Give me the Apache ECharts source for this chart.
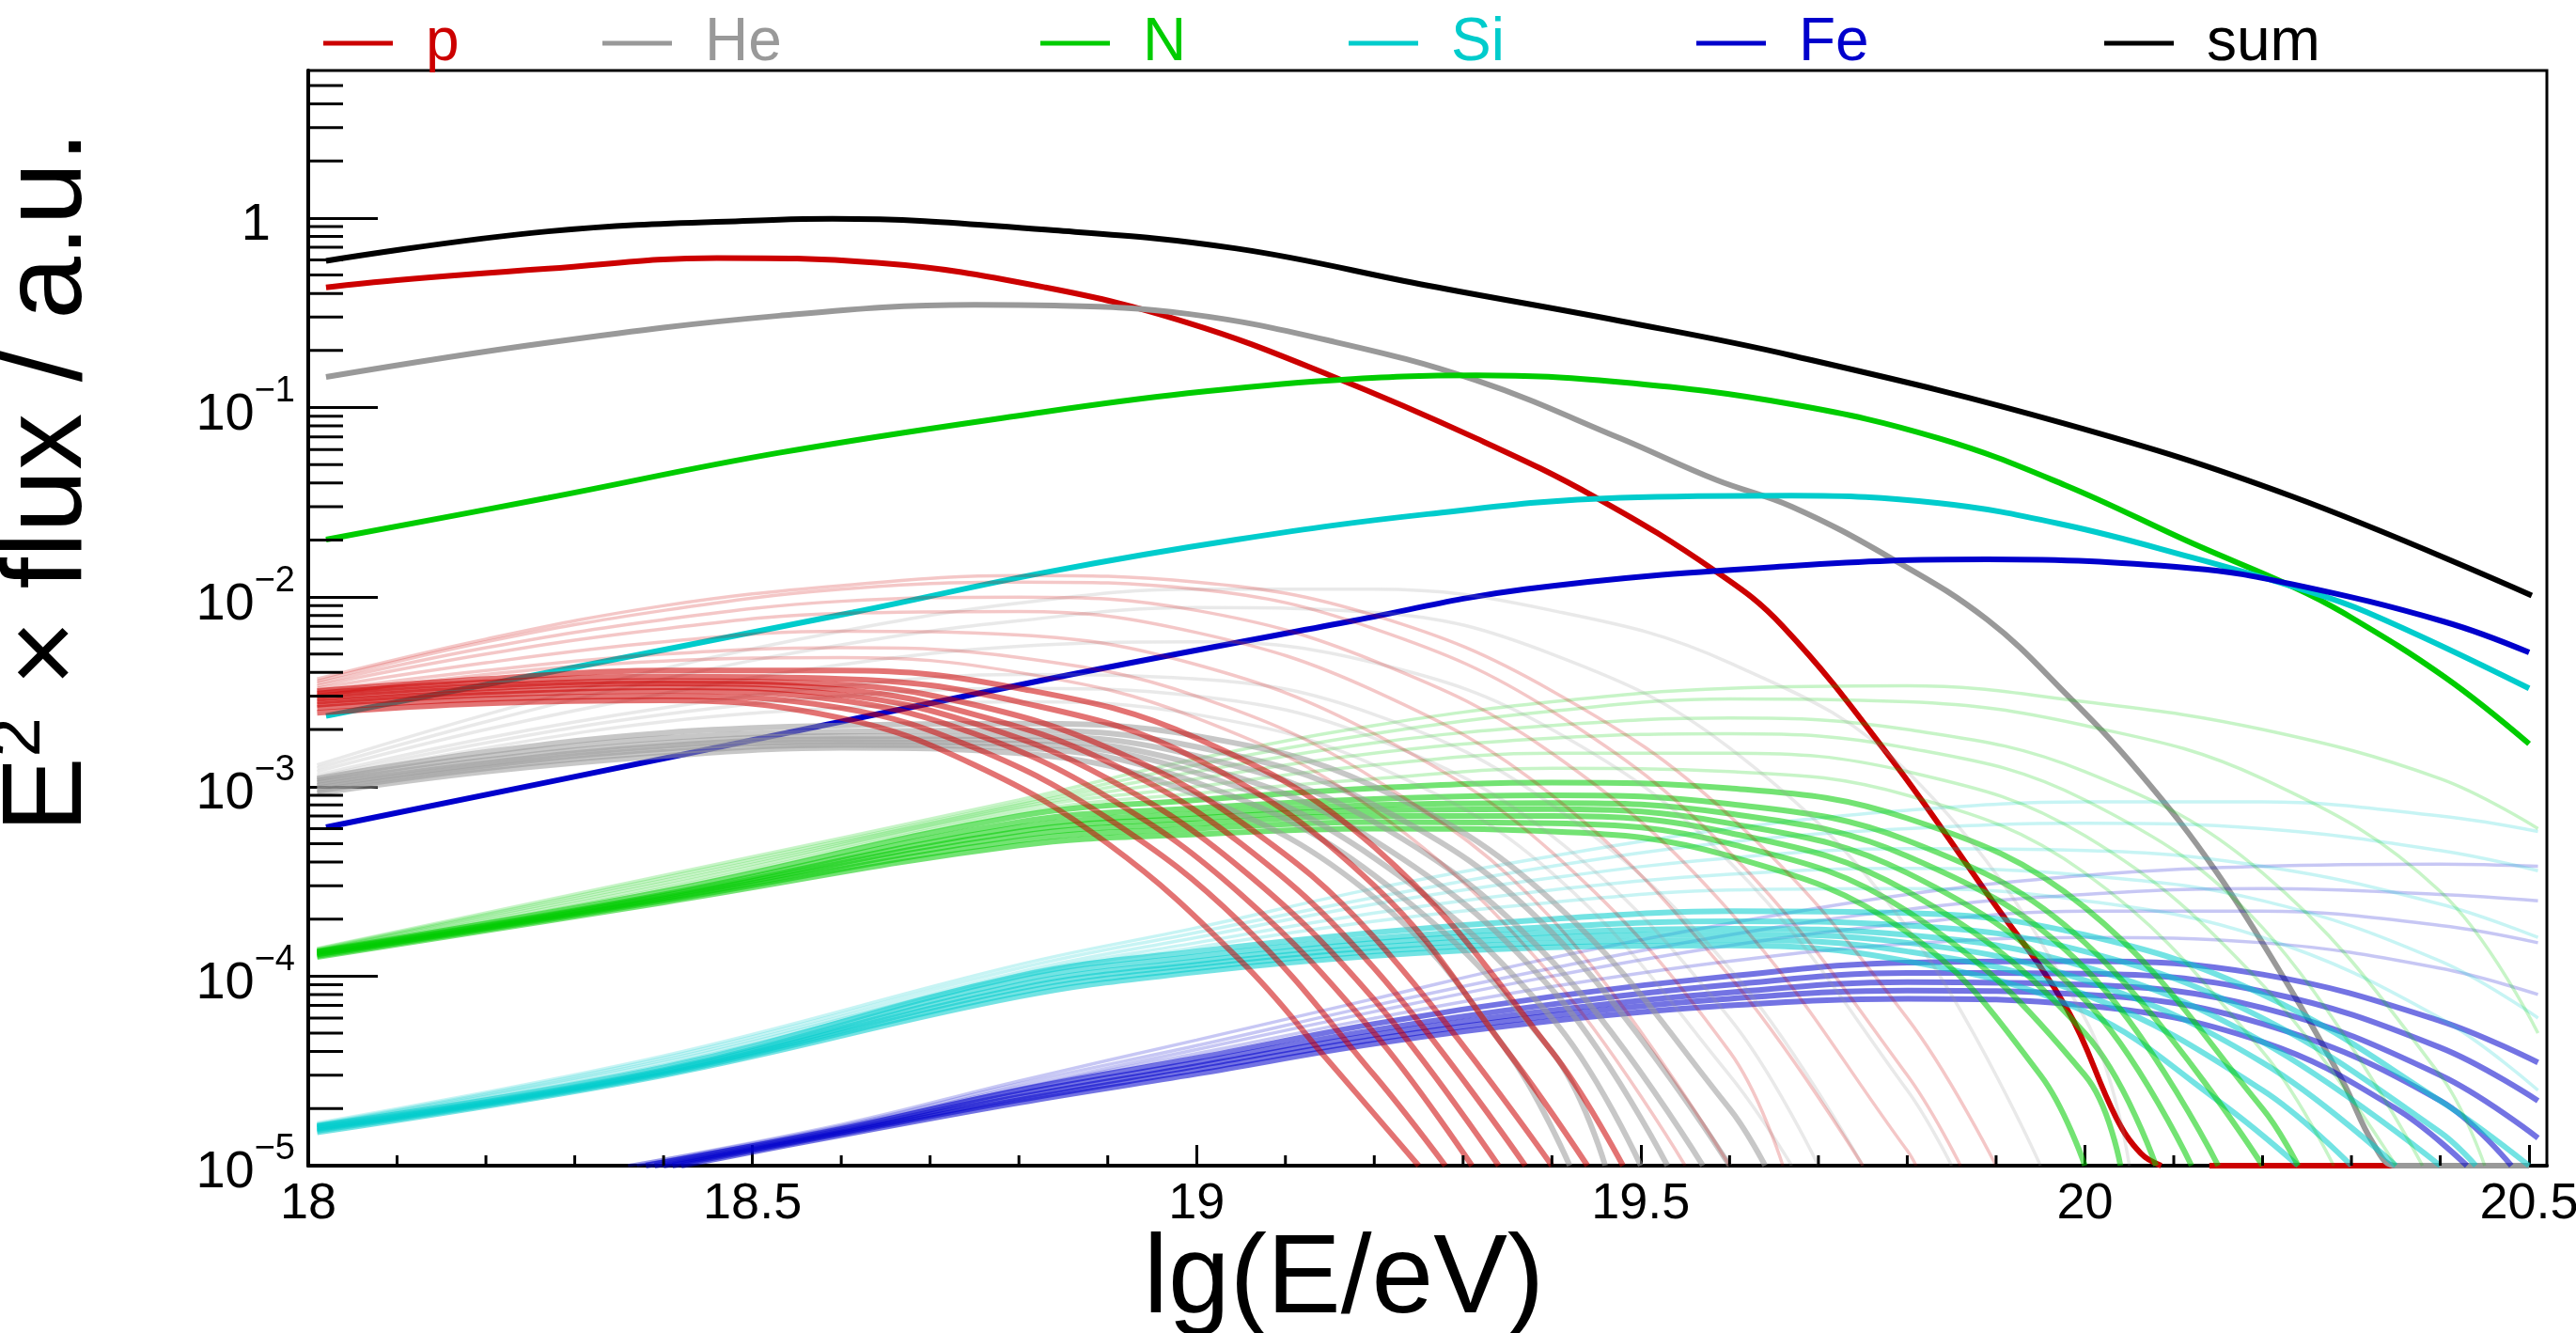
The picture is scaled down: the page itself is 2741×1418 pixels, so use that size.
<!DOCTYPE html>
<html><head><meta charset="utf-8">
<script src="https://cdn.jsdelivr.net/npm/echarts@6/dist/echarts.min.js"></script>
<style>html,body{margin:0;padding:0;background:#fff}#c{width:2741px;height:1418px}</style>
</head><body><div id="c"></div>
<script>
const FONT = '"Liberation Sans", Arial, Helvetica, sans-serif';
const RED = '#cc0000', GRAY = '#999999', GREEN = '#00cc00', CYAN = '#00cccc', BLUE = '#0000cc', BLACK = '#000000';

// ---- axis ticks ----
const xTickLabels = [18, 18.5, 19, 19.5, 20, 20.5];
const xMinorTicks = [18.1,18.2,18.3,18.4,18.6,18.7,18.8,18.9,19.1,19.2,19.3,19.4,19.6,19.7,19.8,19.9,20.1,20.2,20.3,20.4];
const yMinorTicks = [2e-5,3e-5,4e-5,5e-5,6e-5,7e-5,8e-5,9e-5,
  2e-4,3e-4,4e-4,5e-4,6e-4,7e-4,8e-4,9e-4,
  2e-3,3e-3,4e-3,5e-3,6e-3,7e-3,8e-3,9e-3,
  2e-2,3e-2,4e-2,5e-2,6e-2,7e-2,8e-2,9e-2,
  0.2,0.3,0.4,0.5,0.6,0.7,0.8,0.9, 2,3,4,5];

// ---- main curves [lg(E/eV), E^2 x flux] ----
const pMain = [[18.02,0.43],[18.1,0.47],[18.27,0.54],[18.46,0.615],[18.64,0.58],[18.83,0.43],[18.99,0.28],[19.15,0.148],[19.315,0.0687],[19.45,0.0334],[19.585,0.0136],[19.66,0.0070],[19.78,1.44e-3],[19.89,2.72e-4],[19.98,6.7e-5],[20.035,1.8e-5],[20.063,1.16e-5],[20.086,1.0e-5],[20.11,null],[20.14,1e-5],[20.42,1e-5]];
const heMain = [[18.02,0.145],[18.27,0.22],[18.53,0.305],[18.75,0.348],[18.84,0.345],[18.99,0.312],[19.15,0.225],[19.315,0.139],[19.477,0.0688],[19.585,0.0415],[19.67,0.03],[19.78,0.0162],[19.89,7.6e-3],[19.98,3.04e-3],[20.063,1.16e-3],[20.148,3.55e-4],[20.233,8.3e-5],[20.29,2.8e-5],[20.325,1.3e-5],[20.35,1e-5],[20.5,1e-5]];
const nMain = [[18.02,0.0201],[18.27,0.0334],[18.53,0.0577],[18.83,0.095],[18.99,0.119],[19.15,0.139],[19.315,0.148],[19.477,0.136],[19.67,0.104],[19.836,0.0687],[19.978,0.0389],[20.12,0.0193],[20.233,0.0114],[20.29,8.3e-3],[20.405,3.78e-3],[20.5,1.68e-3]];
const siMain = [[18.02,2.36e-3],[18.613,8.3e-3],[18.83,0.0135],[19.045,0.0201],[19.26,0.0274],[19.477,0.0334],[19.67,0.0343],[19.836,0.0313],[19.978,0.024],[20.12,0.0162],[20.233,0.0114],[20.318,8.3e-3],[20.5,3.3e-3]];
const feMain = [[18.02,6.1e-4],[18.42,1.47e-3],[18.84,3.75e-3],[19.17,7.4e-3],[19.37,0.011],[19.67,0.0146],[19.89,0.0158],[20.12,0.0142],[20.233,0.0117],[20.405,7.4e-3],[20.5,5.1e-3]];
const sumMain = [[18.02,0.594],[18.27,0.85],[18.53,0.98],[18.59,0.99],[18.84,0.86],[19.045,0.69],[19.26,0.44],[19.477,0.286],[19.67,0.188],[19.978,0.082],[20.233,0.034],[20.503,0.0102]];

// ---- bundles of individual curves: dense cores and sparse outer curves ----
const pCore = [
 [[18.01,2.45e-3],[18.2,2.75e-3],[18.4,2.85e-3],[18.6,2.3e-3],[18.75,1.3e-3],[18.9,5e-4],[19.05,1.2e-4],[19.15,3.5e-5],[19.25,1e-5]],
 [[18.01,2.6e-3],[18.2,2.9e-3],[18.4,3.0e-3],[18.6,2.6e-3],[18.75,1.6e-3],[18.9,6.8e-4],[19.05,1.9e-4],[19.2,3e-5],[19.28,1e-5]],
 [[18.01,2.7e-3],[18.2,3.05e-3],[18.4,3.2e-3],[18.6,2.85e-3],[18.75,1.9e-3],[18.9,8.8e-4],[19.05,2.7e-4],[19.2,5e-5],[19.31,1e-5]],
 [[18.01,2.8e-3],[18.2,3.15e-3],[18.4,3.35e-3],[18.6,3.05e-3],[18.75,2.15e-3],[18.9,1.1e-3],[19.05,3.7e-4],[19.2,7.5e-5],[19.34,1e-5]],
 [[18.01,2.9e-3],[18.2,3.3e-3],[18.4,3.5e-3],[18.6,3.25e-3],[18.75,2.4e-3],[18.9,1.35e-3],[19.05,5e-4],[19.2,1.1e-4],[19.37,1e-5]],
 [[18.01,3.0e-3],[18.2,3.4e-3],[18.4,3.6e-3],[18.6,3.45e-3],[18.75,2.7e-3],[18.9,1.6e-3],[19.05,6.5e-4],[19.2,1.6e-4],[19.4,1e-5]],
 [[18.01,3.1e-3],[18.2,3.55e-3],[18.4,3.8e-3],[18.6,3.7e-3],[18.8,2.8e-3],[19.0,1.4e-3],[19.2,3e-4],[19.35,4e-5],[19.44,1e-5]],
 [[18.01,3.2e-3],[18.2,3.7e-3],[18.4,4.1e-3],[18.6,4.1e-3],[18.8,3.3e-3],[19.0,1.8e-3],[19.2,4.8e-4],[19.4,4e-5],[19.48,1e-5]]
];
const pOuter = [
 [[18.01,3.0e-3],[18.2,3.9e-3],[18.4,4.6e-3],[18.6,4.8e-3],[18.8,4.0e-3],[19.0,2.3e-3],[19.2,7.5e-4],[19.4,1e-4],[19.55,1e-5]],
 [[18.01,3.2e-3],[18.2,4.1e-3],[18.4,5.0e-3],[18.6,5.4e-3],[18.8,4.8e-3],[19.0,3.0e-3],[19.2,1.1e-3],[19.4,2e-4],[19.6,1e-5]],
 [[18.01,3.3e-3],[18.2,4.5e-3],[18.4,5.8e-3],[18.6,6.6e-3],[18.8,6.3e-3],[19.0,4.4e-3],[19.2,1.9e-3],[19.4,4.5e-4],[19.6,4e-5],[19.66,1e-5]],
 [[18.01,3.4e-3],[18.2,5.0e-3],[18.4,6.8e-3],[18.6,8.2e-3],[18.8,8.4e-3],[19.0,6.5e-3],[19.2,3.2e-3],[19.4,9e-4],[19.6,1e-4],[19.75,1e-5]],
 [[18.01,3.5e-3],[18.2,5.4e-3],[18.4,7.6e-3],[18.6,9.5e-3],[18.8,1.0e-2],[19.0,8.5e-3],[19.2,4.6e-3],[19.4,1.5e-3],[19.6,2.2e-4],[19.8,1.2e-5],[19.81,1e-5]],
 [[18.01,3.6e-3],[18.2,5.8e-3],[18.4,8.5e-3],[18.6,1.1e-2],[18.8,1.2e-2],[19.0,1.1e-2],[19.2,6.8e-3],[19.4,2.5e-3],[19.6,4.5e-4],[19.8,3e-5],[19.86,1e-5]],
 [[18.01,3.7e-3],[18.2,6.0e-3],[18.4,9e-3],[18.6,1.15e-2],[18.8,1.3e-2],[19.0,1.2e-2],[19.2,8e-3],[19.4,3.2e-3],[19.6,7e-4],[19.8,6e-5],[19.9,1e-5]]
];
const heCore = [
 [[18.01,9.2e-4],[18.2,1.2e-3],[18.4,1.45e-3],[18.6,1.6e-3],[18.8,1.5e-3],[19.0,9e-4],[19.2,2.6e-4],[19.35,4e-5],[19.42,1e-5]],
 [[18.01,9.5e-4],[18.2,1.25e-3],[18.4,1.52e-3],[18.6,1.66e-3],[18.8,1.6e-3],[19.0,1.05e-3],[19.2,3.4e-4],[19.4,4e-5],[19.46,1e-5]],
 [[18.01,9.8e-4],[18.2,1.29e-3],[18.4,1.58e-3],[18.6,1.72e-3],[18.8,1.68e-3],[19.0,1.18e-3],[19.2,4.2e-4],[19.4,6e-5],[19.5,1e-5]],
 [[18.01,1.01e-3],[18.2,1.33e-3],[18.4,1.64e-3],[18.6,1.78e-3],[18.8,1.76e-3],[19.0,1.3e-3],[19.2,5.2e-4],[19.4,8.5e-5],[19.53,1e-5]],
 [[18.01,1.04e-3],[18.2,1.38e-3],[18.4,1.7e-3],[18.6,1.85e-3],[18.8,1.85e-3],[19.0,1.45e-3],[19.2,6.5e-4],[19.4,1.2e-4],[19.57,1e-5]],
 [[18.01,1.07e-3],[18.2,1.45e-3],[18.4,1.8e-3],[18.6,1.95e-3],[18.8,1.98e-3],[19.0,1.62e-3],[19.2,8e-4],[19.4,1.7e-4],[19.6,1e-5]],
 [[18.01,1.1e-3],[18.2,1.52e-3],[18.4,1.92e-3],[18.6,2.1e-3],[18.8,2.15e-3],[19.0,1.85e-3],[19.2,1.0e-3],[19.4,2.5e-4],[19.6,2e-5],[19.64,1e-5]]
];
const heOuter = [
 [[18.01,1.1e-3],[18.2,1.6e-3],[18.4,2.2e-3],[18.6,2.6e-3],[18.8,2.8e-3],[19.0,2.4e-3],[19.2,1.3e-3],[19.4,3.5e-4],[19.6,3e-5],[19.67,1e-5]],
 [[18.01,1.12e-3],[18.2,1.7e-3],[18.4,2.4e-3],[18.6,3.0e-3],[18.8,3.3e-3],[19.0,3.0e-3],[19.2,1.8e-3],[19.4,5.5e-4],[19.6,6e-5],[19.7,1e-5]],
 [[18.01,1.15e-3],[18.2,1.8e-3],[18.4,2.6e-3],[18.6,3.4e-3],[18.8,3.9e-3],[19.0,3.7e-3],[19.2,2.4e-3],[19.4,8e-4],[19.6,1.1e-4],[19.75,1e-5]],
 [[18.01,1.2e-3],[18.2,2.0e-3],[18.4,3.1e-3],[18.6,4.4e-3],[18.8,5.5e-3],[19.0,5.8e-3],[19.2,4.5e-3],[19.4,2.0e-3],[19.6,4e-4],[19.8,2.5e-5],[19.85,1e-5]],
 [[18.01,1.25e-3],[18.2,2.2e-3],[18.4,3.7e-3],[18.6,5.6e-3],[18.8,7.5e-3],[19.0,8.8e-3],[19.2,8.3e-3],[19.4,5e-3],[19.6,1.6e-3],[19.8,1.8e-4],[19.95,1e-5]],
 [[18.01,1.3e-3],[18.2,2.4e-3],[18.4,4.2e-3],[18.6,6.6e-3],[18.8,9.3e-3],[19.0,1.1e-2],[19.2,1.1e-2],[19.4,8.5e-3],[19.6,4.5e-3],[19.8,1.2e-3],[20.0,6e-5],[20.05,1e-5]]
];
const nCore = [
 [[18.01,1.26e-4],[18.4,2.45e-4],[18.8,4.9e-4],[19.0,5.6e-4],[19.2,6.0e-4],[19.4,5.8e-4],[19.6,4.3e-4],[19.8,1.7e-4],[19.95,3e-5],[20.0,1e-5]],
 [[18.01,1.28e-4],[18.4,2.5e-4],[18.8,5.2e-4],[19.0,6.0e-4],[19.2,6.5e-4],[19.4,6.4e-4],[19.6,5.0e-4],[19.8,2.2e-4],[20.0,3e-5],[20.04,1e-5]],
 [[18.01,1.3e-4],[18.4,2.55e-4],[18.8,5.5e-4],[19.0,6.4e-4],[19.2,7.0e-4],[19.4,7.0e-4],[19.6,5.7e-4],[19.8,2.8e-4],[20.0,5e-5],[20.08,1e-5]],
 [[18.01,1.31e-4],[18.4,2.6e-4],[18.8,5.8e-4],[19.0,6.8e-4],[19.2,7.5e-4],[19.4,7.6e-4],[19.6,6.4e-4],[19.8,3.5e-4],[20.0,7.5e-5],[20.12,1e-5]],
 [[18.01,1.33e-4],[18.4,2.65e-4],[18.8,6.1e-4],[19.0,7.2e-4],[19.2,8.0e-4],[19.4,8.2e-4],[19.6,7.2e-4],[19.8,4.3e-4],[20.0,1.1e-4],[20.15,1e-5]],
 [[18.01,1.34e-4],[18.4,2.7e-4],[18.8,6.5e-4],[19.0,7.7e-4],[19.2,8.6e-4],[19.4,9.0e-4],[19.6,8.1e-4],[19.8,5.2e-4],[20.0,1.5e-4],[20.2,1e-5]],
 [[18.01,1.35e-4],[18.4,2.8e-4],[18.8,7.0e-4],[19.0,8.5e-4],[19.2,9.8e-4],[19.4,1.05e-3],[19.6,9.8e-4],[19.8,6.8e-4],[20.0,2.3e-4],[20.2,2e-5],[20.24,1e-5]]
];
const nOuter = [
 [[18.01,1.35e-4],[18.4,2.9e-4],[18.8,7.3e-4],[19.0,9.2e-4],[19.2,1.1e-3],[19.4,1.25e-3],[19.6,1.2e-3],[19.8,9e-4],[20.0,3.5e-4],[20.2,4e-5],[20.28,1e-5]],
 [[18.01,1.36e-4],[18.4,3.0e-4],[18.8,7.6e-4],[19.0,1.0e-3],[19.2,1.3e-3],[19.4,1.5e-3],[19.6,1.5e-3],[19.8,1.2e-3],[20.0,5.5e-4],[20.2,9e-5],[20.35,1e-5]],
 [[18.01,1.37e-4],[18.4,3.1e-4],[18.8,7.8e-4],[19.0,1.1e-3],[19.2,1.5e-3],[19.4,1.8e-3],[19.6,1.9e-3],[19.8,1.6e-3],[20.0,8.5e-4],[20.2,1.8e-4],[20.38,1e-5]],
 [[18.01,1.38e-4],[18.4,3.2e-4],[18.8,8.0e-4],[19.0,1.2e-3],[19.2,1.7e-3],[19.4,2.1e-3],[19.6,2.3e-3],[19.8,2.0e-3],[20.0,1.2e-3],[20.2,3.5e-4],[20.4,3e-5],[20.45,1e-5]],
 [[18.01,1.39e-4],[18.4,3.3e-4],[18.8,8.2e-4],[19.0,1.3e-3],[19.2,1.9e-3],[19.4,2.5e-3],[19.6,2.9e-3],[19.8,2.8e-3],[20.0,2.1e-3],[20.2,1.1e-3],[20.4,2.8e-4],[20.51,5e-5]],
 [[18.01,1.4e-4],[18.4,3.4e-4],[18.8,8.5e-4],[19.0,1.4e-3],[19.2,2.1e-3],[19.4,2.8e-3],[19.6,3.3e-3],[19.8,3.4e-3],[20.0,2.8e-3],[20.2,2.0e-3],[20.4,1.1e-3],[20.51,6e-4]]
];
const siCore = [
 [[18.01,1.5e-5],[18.4,3.0e-5],[18.8,7.8e-5],[19.0,1.05e-4],[19.2,1.28e-4],[19.4,1.42e-4],[19.6,1.45e-4],[19.8,1.2e-4],[20.0,6.5e-5],[20.15,2.2e-5],[20.24,1e-5]],
 [[18.01,1.53e-5],[18.4,3.05e-5],[18.8,8.2e-5],[19.0,1.1e-4],[19.2,1.35e-4],[19.4,1.5e-4],[19.6,1.55e-4],[19.8,1.35e-4],[20.0,8e-5],[20.2,2.5e-5],[20.3,1e-5]],
 [[18.01,1.56e-5],[18.4,3.1e-5],[18.8,8.6e-5],[19.0,1.15e-4],[19.2,1.42e-4],[19.4,1.6e-4],[19.6,1.66e-4],[19.8,1.5e-4],[20.0,9.5e-5],[20.2,3.5e-5],[20.35,1e-5]],
 [[18.01,1.58e-5],[18.4,3.15e-5],[18.8,9.0e-5],[19.0,1.2e-4],[19.2,1.5e-4],[19.4,1.7e-4],[19.6,1.78e-4],[19.8,1.65e-4],[20.0,1.12e-4],[20.2,4.5e-5],[20.4,1e-5]],
 [[18.01,1.6e-5],[18.4,3.2e-5],[18.8,9.5e-5],[19.0,1.27e-4],[19.2,1.58e-4],[19.4,1.82e-4],[19.6,1.95e-4],[19.8,1.85e-4],[20.0,1.35e-4],[20.2,6e-5],[20.4,1.5e-5],[20.44,1e-5]],
 [[18.01,1.62e-5],[18.4,3.3e-5],[18.8,1.0e-4],[19.0,1.35e-4],[19.2,1.7e-4],[19.4,2.0e-4],[19.6,2.2e-4],[19.8,2.15e-4],[20.0,1.65e-4],[20.2,8e-5],[20.4,2.2e-5],[20.5,1e-5]]
];
const siOuter = [
 [[18.01,1.63e-5],[18.4,3.4e-5],[18.8,1.0e-4],[19.0,1.42e-4],[19.2,1.95e-4],[19.4,2.45e-4],[19.6,2.85e-4],[19.8,2.9e-4],[20.0,2.5e-4],[20.2,1.6e-4],[20.4,6e-5],[20.51,2.5e-5]],
 [[18.01,1.64e-5],[18.4,3.5e-5],[18.8,1.02e-4],[19.0,1.5e-4],[19.2,2.15e-4],[19.4,2.85e-4],[19.6,3.45e-4],[19.8,3.7e-4],[20.0,3.4e-4],[20.2,2.5e-4],[20.4,1.2e-4],[20.51,6e-5]],
 [[18.01,1.65e-5],[18.4,3.6e-5],[18.8,1.05e-4],[19.0,1.6e-4],[19.2,2.4e-4],[19.4,3.3e-4],[19.6,4.2e-4],[19.8,4.7e-4],[20.0,4.6e-4],[20.2,3.8e-4],[20.4,2.4e-4],[20.51,1.6e-4]],
 [[18.01,1.66e-5],[18.4,3.7e-5],[18.8,1.1e-4],[19.0,1.7e-4],[19.2,2.6e-4],[19.4,3.8e-4],[19.6,5.1e-4],[19.8,6e-4],[20.0,6.4e-4],[20.2,6e-4],[20.4,4.6e-4],[20.51,3.6e-4]],
 [[18.01,1.68e-5],[18.4,3.8e-5],[18.8,1.15e-4],[19.0,1.8e-4],[19.2,2.9e-4],[19.4,4.3e-4],[19.6,6e-4],[19.8,7.5e-4],[20.0,8.3e-4],[20.2,8.3e-4],[20.4,7e-4],[20.51,5.8e-4]]
];
const feCore = [
 [[18.42,1e-5],[18.6,1.45e-5],[18.8,2.15e-5],[19.0,3.05e-5],[19.2,4.4e-5],[19.4,5.8e-5],[19.6,7.0e-5],[19.8,7.6e-5],[20.0,7.0e-5],[20.2,4.5e-5],[20.35,2e-5],[20.43,1e-5]],
 [[18.41,1e-5],[18.6,1.48e-5],[18.8,2.22e-5],[19.0,3.2e-5],[19.2,4.65e-5],[19.4,6.2e-5],[19.6,7.6e-5],[19.8,8.4e-5],[20.0,8.0e-5],[20.2,5.6e-5],[20.4,2.2e-5],[20.48,1e-5]],
 [[18.40,1e-5],[18.6,1.5e-5],[18.8,2.3e-5],[19.0,3.35e-5],[19.2,4.9e-5],[19.4,6.6e-5],[19.6,8.2e-5],[19.8,9.3e-5],[20.0,9.0e-5],[20.2,6.8e-5],[20.4,3e-5],[20.51,1.4e-5]],
 [[18.39,1e-5],[18.6,1.53e-5],[18.8,2.4e-5],[19.0,3.5e-5],[19.2,5.2e-5],[19.4,7.1e-5],[19.6,9e-5],[19.8,1.04e-4],[20.0,1.03e-4],[20.2,8.3e-5],[20.4,4.2e-5],[20.51,2.2e-5]],
 [[18.38,1e-5],[18.6,1.56e-5],[18.8,2.5e-5],[19.0,3.7e-5],[19.2,5.6e-5],[19.4,7.8e-5],[19.6,1.0e-4],[19.8,1.18e-4],[20.0,1.2e-4],[20.2,1.02e-4],[20.4,5.8e-5],[20.51,3.5e-5]]
];
const feOuter = [
 [[18.37,1e-5],[18.6,1.58e-5],[18.8,2.55e-5],[19.0,3.9e-5],[19.2,6.0e-5],[19.4,8.8e-5],[19.6,1.2e-4],[19.8,1.48e-4],[20.0,1.6e-4],[20.2,1.5e-4],[20.4,1.1e-4],[20.51,8e-5]],
 [[18.37,1e-5],[18.6,1.6e-5],[18.8,2.6e-5],[19.0,4.1e-5],[19.2,6.5e-5],[19.4,1.0e-4],[19.6,1.45e-4],[19.8,1.9e-4],[20.0,2.2e-4],[20.2,2.2e-4],[20.4,1.85e-4],[20.51,1.5e-4]],
 [[18.36,1e-5],[18.6,1.62e-5],[18.8,2.7e-5],[19.0,4.3e-5],[19.2,7.0e-5],[19.4,1.1e-4],[19.6,1.65e-4],[19.8,2.25e-4],[20.0,2.7e-4],[20.2,2.9e-4],[20.4,2.7e-4],[20.51,2.5e-4]],
 [[18.36,1e-5],[18.6,1.65e-5],[18.8,2.8e-5],[19.0,4.6e-5],[19.2,7.6e-5],[19.4,1.25e-4],[19.6,1.9e-4],[19.8,2.7e-4],[20.0,3.4e-4],[20.2,3.8e-4],[20.4,3.9e-4],[20.51,3.8e-4]]
];

const mains = [
  {name:'p', data:pMain, color:RED},
  {name:'He', data:heMain, color:GRAY},
  {name:'N', data:nMain, color:GREEN},
  {name:'Si', data:siMain, color:CYAN},
  {name:'Fe', data:feMain, color:BLUE},
  {name:'sum', data:sumMain, color:BLACK}
];
const bundles = [
  {core:feCore, outer:feOuter, color:BLUE},
  {core:siCore, outer:siOuter, color:CYAN},
  {core:nCore, outer:nOuter, color:GREEN},
  {core:heCore, outer:heOuter, color:GRAY},
  {core:pCore, outer:pOuter, color:RED}
];
const legendLeft = [344, 641, 1107, 1435, 1805, 2239];

const series = [];
mains.forEach(m => series.push({
  name:m.name, type:'line', data:m.data, showSymbol:false, smooth:0.4,
  connectNulls:false, lineStyle:{color:m.color, width:6}, itemStyle:{color:m.color}, z:2, silent:true
}));
bundles.forEach(b => {
  b.outer.forEach(l => series.push({
    type:'line', data:l, showSymbol:false, smooth:0.4,
    lineStyle:{color:b.color, width:3.5, opacity:0.22}, z:3, silent:true
  }));
  b.core.forEach(l => series.push({
    type:'line', data:l, showSymbol:false, smooth:0.4,
    lineStyle:{color:b.color, width:6, opacity:0.55}, z:3, silent:true
  }));
});
// minor ticks drawn through the axis scales
series.push({
  type:'custom', data:yMinorTicks.map(v=>[18, v]), z:10, silent:true, clip:false,
  renderItem:(params, api)=>{ const p = api.coord([api.value(0), api.value(1)]);
    return {type:'line', shape:{x1:p[0], y1:p[1], x2:p[0]+37, y2:p[1]}, style:{stroke:'#000', lineWidth:3}}; }
});
series.push({
  type:'custom', data:xMinorTicks.map(v=>[v, 1e-5]), z:10, silent:true, clip:false,
  renderItem:(params, api)=>{ const p = api.coord([api.value(0), api.value(1)]);
    return {type:'line', shape:{x1:p[0], y1:p[1], x2:p[0], y2:p[1]-11}, style:{stroke:'#000', lineWidth:3}}; }
});

const legends = mains.map((m,i)=>({
  data:[m.name], left:legendLeft[i], top:14, padding:0, icon:'rect', itemWidth:74, itemHeight:5,
  selectedMode:false,
  textStyle:{color:m.color, fontSize:64, fontFamily:FONT, padding:[0,0,0,30]}
}));

const chart = echarts.init(document.getElementById('c'), null, {renderer:'canvas', width:2741, height:1418});
chart.setOption({
  animation:false,
  backgroundColor:'#fff',
  grid:{left:328, right:31, top:75, bottom:178, show:true, borderColor:'#000', borderWidth:3,
        backgroundColor:'transparent', containLabel:false, outerBoundsMode:'none'},
  legend:legends,
  xAxis:{
    type:'value', min:18, max:20.52, interval:0.5,
    name:'lg(E/eV)', nameLocation:'middle', nameGap:64, nameMoveOverlap:false,
    nameTextStyle:{fontSize:118, fontFamily:FONT, color:'#000', padding:[0,178,0,0]},
    axisLine:{show:true, lineStyle:{color:'#000', width:4}},
    axisTick:{show:true, inside:true, length:22, lineStyle:{color:'#000', width:3}},
    axisLabel:{show:true, showMaxLabel:false, margin:14, fontSize:54, fontFamily:FONT, color:'#000',
      formatter:v=> xTickLabels.indexOf(v) >= 0 ? String(v) : ''},
    splitLine:{show:false}
  },
  yAxis:{
    type:'log', logBase:10, min:1e-5, max:6, splitNumber:6,
    name:'{a|E}{s|2}{a| × flux / a.u.}', nameLocation:'middle', nameGap:205, nameRotate:90, nameMoveOverlap:false,
    nameTextStyle:{fontSize:120, fontFamily:FONT, color:'#000', padding:[0,0,0,290],
      rich:{a:{fontSize:120, fontFamily:FONT, color:'#000', lineHeight:140},
            s:{fontSize:76, fontFamily:FONT, color:'#000', verticalAlign:'top', lineHeight:76}}},
    axisLine:{show:true, lineStyle:{color:'#000', width:4}},
    axisTick:{show:true, inside:true, length:74, lineStyle:{color:'#000', width:3}},
    axisLabel:{show:true, showMaxLabel:false, margin:14, color:'#000',
      formatter:v=>{ const e = Math.round(Math.log10(v)); if (e === 0) return '{o|1}';
        return '{b|10}{s|' + (e<0?'\u2212':'') + Math.abs(e) + '}'; },
      rich:{b:{fontSize:56, fontFamily:FONT, color:'#000', lineHeight:72, verticalAlign:'bottom'},
            o:{fontSize:56, fontFamily:FONT, color:'#000', lineHeight:72, padding:[0,26,0,0], verticalAlign:'bottom'},
            s:{fontSize:38, fontFamily:FONT, color:'#000', lineHeight:38, verticalAlign:'top'}}},
    splitLine:{show:false}, minorTick:{show:false}
  },
  series:series
});
</script></body></html>
